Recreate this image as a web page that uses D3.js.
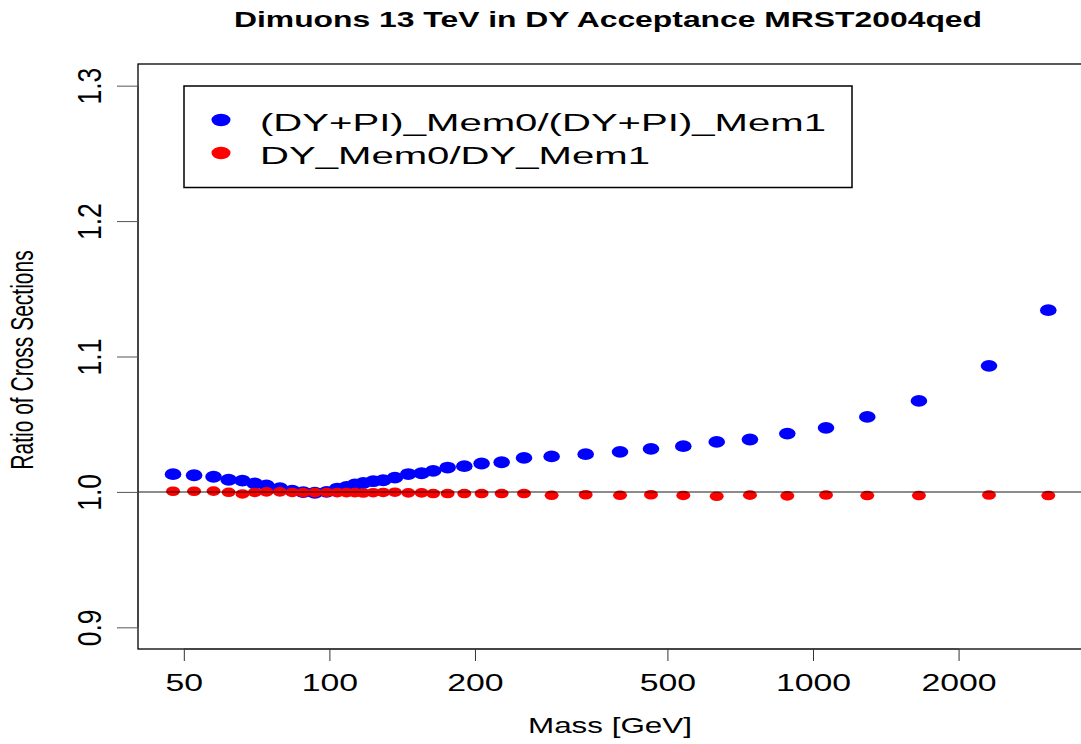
<!DOCTYPE html>
<html>
<head>
<meta charset="utf-8">
<script src="https://cdn.jsdelivr.net/npm/d3@7"></script>
<style>
  body { margin: 0; background: #fff; }
  text { font-family: "Liberation Sans", Arial, Helvetica, sans-serif; fill: #000; }
</style>
</head>
<body>
<div id="chart"></div>
<script>
// Mass points (GeV)
let masses = [47.5, 52.5, 57.6, 61.9, 66.1, 70.1, 74.1, 79.0, 83.8, 88.3,
    93.3, 98.7, 103.8, 108.5, 112.9, 117.5, 123.2, 129.2, 136.6, 145.6,
    155.1, 163.9, 175.6, 190.1, 206.4, 227.1, 252.6, 288.1, 338.8, 399.0,
    462.4, 539.3, 632.3, 740.7, 884.9, 1064, 1295, 1656, 2312, 3066];

// (DY+PI)_Mem0/(DY+PI)_Mem1
let ratioDYPI = [1.0131, 1.0123, 1.0112, 1.0090, 1.0083, 1.0062, 1.0048, 1.0027, 1.0010, 0.9998,
    0.9994, 1.0000, 1.0025, 1.0037, 1.0055, 1.0066, 1.0079, 1.0086, 1.0105, 1.0132,
    1.0138, 1.0155, 1.0180, 1.0190, 1.0210, 1.0219, 1.0251, 1.0262, 1.0279, 1.0296,
    1.0318, 1.0338, 1.0369, 1.0387, 1.0431, 1.0473, 1.0554, 1.0672, 1.0931, 1.1342];

// DY_Mem0/DY_Mem1
let ratioDY = [1.0005, 1.0005, 1.0006, 0.9997, 0.9985, 0.9996, 1.0000, 1.0000, 0.9996, 0.9995,
    0.9995, 0.9996, 0.9995, 0.9995, 0.9995, 0.9992, 0.9994, 0.9996, 0.9998, 0.9993,
    0.9993, 0.9988, 0.9988, 0.9988, 0.9988, 0.9988, 0.9988, 0.9975, 0.9979, 0.9975,
    0.9979, 0.9974, 0.9968, 0.9976, 0.9971, 0.9977, 0.9973, 0.9973, 0.9977, 0.9973];

let xTicks = [50, 100, 200, 500, 1000, 2000];
let yTicks = [0.9, 1.0, 1.1, 1.2, 1.3];
let legendLabels = ["(DY+PI)_Mem0/(DY+PI)_Mem1", "DY_Mem0/DY_Mem1"];
let legendColors = ["#0000ff", "#ff0000"];

// the original picture is stretched sideways, so text and dots get squashed
let sx = 1.47;

let svgWidth = 1081;
let svgHeight = 744;
let plot = { left: 138, right: 1083, top: 64, bottom: 649 };

let svg = d3
    .select("#chart")
    .append("svg")
    .attr("width", svgWidth)
    .attr("height", svgHeight);

// scales
let xLogScale = d3
    .scaleLog()
    .domain([40.2, 3617])
    .range([plot.left, plot.right]);

let yLinearScale = d3
    .scaleLinear()
    .domain([0.884, 1.316])
    .range([plot.bottom, plot.top]);

// points, blue first then red on top
svg.append("g")
    .selectAll("ellipse")
    .data(masses)
    .enter()
    .append("ellipse")
    .attr("cx", d => xLogScale(d))
    .attr("cy", (d, i) => yLinearScale(ratioDYPI[i]))
    .attr("rx", 8.3)
    .attr("ry", 5.9)
    .attr("fill", legendColors[0]);

svg.append("g")
    .selectAll("ellipse")
    .data(masses)
    .enter()
    .append("ellipse")
    .attr("cx", d => xLogScale(d))
    .attr("cy", (d, i) => yLinearScale(ratioDY[i]))
    .attr("rx", 7)
    .attr("ry", 4.8)
    .attr("fill", legendColors[1]);

// reference line at 1
svg.append("line")
    .attr("x1", plot.left)
    .attr("x2", plot.right)
    .attr("y1", yLinearScale(1))
    .attr("y2", yLinearScale(1))
    .attr("stroke", "#000")
    .attr("stroke-opacity", 0.45)
    .attr("stroke-width", 2);

// plot box
svg.append("rect")
    .attr("x", plot.left)
    .attr("y", plot.top)
    .attr("width", plot.right - plot.left)
    .attr("height", plot.bottom - plot.top)
    .attr("fill", "none")
    .attr("stroke", "#000")
    .attr("stroke-width", 1.3);

// x axis
let bottomAxis = d3.axisBottom(xLogScale)
    .tickValues(xTicks)
    .tickFormat(d3.format("d"))
    .tickSize(12)
    .tickSizeOuter(0);

let xAxis = svg.append("g")
    .attr("transform", `translate(0, ${plot.bottom})`)
    .call(bottomAxis);
xAxis.select(".domain")
    .attr("d", `M${xLogScale(xTicks[0])},0H${xLogScale(xTicks[xTicks.length - 1])}`)
    .attr("stroke", "#333")
    .attr("stroke-width", 1);
xAxis.selectAll(".tick line").attr("stroke", "#333");
xAxis.selectAll(".tick text")
    .attr("y", 0)
    .attr("dy", null)
    .attr("transform", `translate(0, 42) scale(${sx}, 1)`)
    .style("font-size", "23px")
    .style("font-family", "'Liberation Sans', Arial, sans-serif")
    .attr("fill", "#000");

// y axis, labels rotated like R's default
let leftAxis = d3.axisLeft(yLinearScale)
    .tickValues(yTicks)
    .tickFormat(d3.format(".1f"))
    .tickSize(21)
    .tickSizeOuter(0);

let yAxis = svg.append("g")
    .attr("transform", `translate(${plot.left}, 0)`)
    .call(leftAxis);
yAxis.select(".domain")
    .attr("d", `M0,${yLinearScale(yTicks[0])}V${yLinearScale(yTicks[yTicks.length - 1])}`)
    .attr("stroke", "#333")
    .attr("stroke-width", 1);
yAxis.selectAll(".tick line").attr("stroke", "#555");
yAxis.selectAll(".tick text")
    .attr("x", 0)
    .attr("dy", null)
    .attr("text-anchor", "middle")
    .attr("transform", "translate(-37, 0) scale(1.25, 1) rotate(-90)")
    .style("font-size", "26.5px")
    .style("font-family", "'Liberation Sans', Arial, sans-serif")
    .attr("fill", "#000");

// title
svg.append("text")
    .attr("x", 608)
    .attr("y", 27)
    .attr("text-anchor", "middle")
    .attr("font-weight", "bold")
    .attr("font-size", "21.5px")
    .attr("textLength", 748)
    .attr("lengthAdjust", "spacingAndGlyphs")
    .text("Dimuons 13 TeV in DY Acceptance MRST2004qed");

// axis titles
svg.append("text")
    .attr("x", 610)
    .attr("y", 733)
    .attr("text-anchor", "middle")
    .attr("font-size", "22px")
    .attr("textLength", 164)
    .attr("lengthAdjust", "spacingAndGlyphs")
    .text("Mass [GeV]");

svg.append("text")
    .attr("transform", `translate(33, 360) scale(${sx}, 1) rotate(-90)`)
    .attr("text-anchor", "middle")
    .attr("font-size", "21px")
    .text("Ratio of Cross Sections");

// legend
let legend = svg.append("g");
legend.append("rect")
    .attr("x", 184)
    .attr("y", 86)
    .attr("width", 668)
    .attr("height", 101.5)
    .attr("fill", "#fff")
    .attr("stroke", "#000")
    .attr("stroke-width", 1.5);

let legendWidths = [566, 390];
legendLabels.forEach(function(label, i) {
    legend.append("ellipse")
        .attr("cx", 221)
        .attr("cy", 120 + i * 33)
        .attr("rx", 9.5)
        .attr("ry", 6.2)
        .attr("fill", legendColors[i]);
    legend.append("text")
        .attr("x", 260)
        .attr("y", 131 + i * 32.5)
        .attr("font-size", "23.5px")
        .attr("textLength", legendWidths[i])
        .attr("lengthAdjust", "spacingAndGlyphs")
        .text(label);
});
</script>
</body>
</html>
